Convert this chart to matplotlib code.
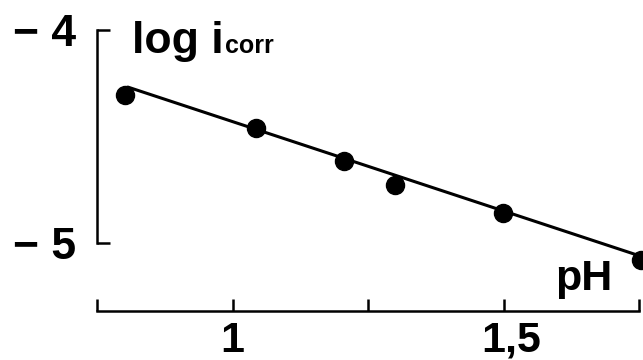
import matplotlib
matplotlib.use("Agg")
import matplotlib.pyplot as plt
import matplotlib.transforms as mtransforms
from matplotlib.ticker import FixedLocator, NullFormatter

# data
ph = [0.802, 1.043, 1.206, 1.300, 1.499, 1.754]
log_icorr = [-4.305, -4.460, -4.615, -4.728, -4.859, -5.080]
fit_ph = [0.807, 1.752]
fit_log = [-4.268, -5.061]
x_major = [1.0, 1.5]
x_major_labels = ["1", "1,5"]
x_minor = [0.75, 1.25, 1.75]
y_ticks = [-5, -4]
y_tick_labels = ["\u2212 5", "\u2212 4"]

plt.rcParams['font.family'] = ['Liberation Sans', 'DejaVu Sans']
fig = plt.figure(figsize=(6.43, 3.60), dpi=100)
W, H = 643, 360
ax = fig.add_axes([97 / W, 0, 546 / W, 1])
ax.set_xlim(0.75, 0.75 + 546 / 542)
ax.set_ylim(-4 - 330 / 213, -4 + 30 / 213)

ax.plot(fit_ph, fit_log, color='black', lw=2.2, solid_capstyle='round', clip_on=False)
ax.plot(ph, log_icorr, 'o', color='black', ms=13, clip_on=False)

for s in ['top', 'right']:
    ax.spines[s].set_visible(False)
ax.spines['left'].set_bounds(-5, -4)
ax.spines['left'].set_linewidth(1.8)
ax.spines['bottom'].set_position(('data', -4 - 281 / 213))
ax.spines['bottom'].set_bounds(0.75, 1.75)
ax.spines['bottom'].set_linewidth(1.8)

ax.set_yticks(y_ticks)
ax.set_yticklabels(y_tick_labels, fontsize=32, fontweight='bold')
ax.tick_params(axis='y', direction='in', length=9, width=1.8, pad=15)

ax.xaxis.set_major_locator(FixedLocator(x_major))
ax.set_xticklabels(x_major_labels, fontsize=31, fontweight='bold')
ax.xaxis.set_minor_locator(FixedLocator(x_minor))
ax.xaxis.set_minor_formatter(NullFormatter())
ax.tick_params(axis='x', which='both', direction='in', length=9, width=1.8, pad=7)
lab = ax.get_xticklabels()[1]
lab.set_transform(lab.get_transform() + mtransforms.ScaledTranslation(8 / 100, 0, fig.dpi_scale_trans))

ax.text(0.8146, -4.108, "log i", fontsize=32, fontweight='bold', va='baseline', ha='left')
ax.text(0.9860, -4.108, "corr", fontsize=18, fontweight='bold', va='baseline', ha='left')
ax.text(1.595, -5.221, "pH", fontsize=31, fontweight='bold', va='baseline', ha='left')

fig.savefig("out.png", dpi=100)
